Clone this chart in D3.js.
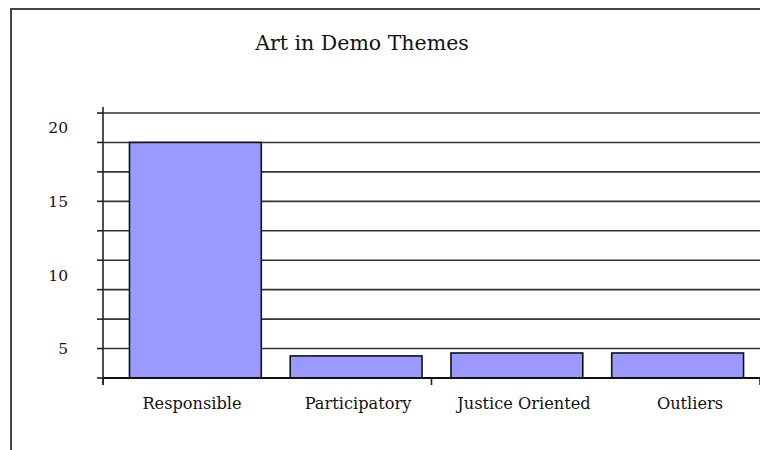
<!DOCTYPE html>
<html>
<head>
<meta charset="utf-8">
<script src="https://cdn.jsdelivr.net/npm/d3@7"></script>
<style>
  html, body { margin: 0; padding: 0; background: #fff; }
  svg { display: block; }
  text { font-family: "DejaVu Serif", "Liberation Serif", serif; fill: #111; }
</style>
</head>
<body>
<svg id="chart" width="760" height="450"></svg>
<script>
const title = "Art in Demo Themes";
const categories = ["Responsible", "Participatory", "Justice Oriented", "Outliers"];
const values = [19, 4.5, 4.7, 4.7];
const yTickLabels = [5, 10, 15, 20];
const yGridValues = [3, 5, 7, 9, 11, 13, 15, 17, 19, 21];
const yDomain = [3, 21];

const svg = d3.select("#chart");
const W = 760, H = 450;
const plot = { left: 103, top: 113, right: 760, bottom: 378 };

// outer frame
svg.append("rect")
  .attr("x", 11).attr("y", 9)
  .attr("width", W + 20).attr("height", H + 20)
  .attr("fill", "none").attr("stroke", "#444").attr("stroke-width", 2);

// title
svg.append("text")
  .attr("x", 362).attr("y", 50)
  .attr("text-anchor", "middle")
  .attr("font-size", 20.5)
  .text(title);

const y = d3.scaleLinear().domain(yDomain).range([plot.bottom, plot.top]);
const xBand = d3.scaleBand().domain(categories)
  .range([115, 758]).paddingInner(0.18).paddingOuter(0.09);
const xLabel = d3.scalePoint().domain(categories).range([192, 690]);
const xTick = d3.scaleLinear().domain([0, categories.length]).range([plot.left, plot.right]);

// gridlines
svg.append("g").selectAll("line").data(yGridValues).join("line")
  .attr("x1", plot.left).attr("x2", plot.right + 5)
  .attr("y1", d => y(d)).attr("y2", d => y(d))
  .attr("stroke", "#333").attr("stroke-width", 1.6);

// y axis line and ticks
svg.append("line")
  .attr("x1", plot.left).attr("x2", plot.left)
  .attr("y1", plot.top - 6).attr("y2", plot.bottom + 7)
  .attr("stroke", "#222").attr("stroke-width", 1.6);
svg.append("g").selectAll("line").data(yGridValues).join("line")
  .attr("x1", plot.left - 6).attr("x2", plot.left)
  .attr("y1", d => y(d)).attr("y2", d => y(d))
  .attr("stroke", "#222").attr("stroke-width", 1.6);

// y labels
svg.append("g").selectAll("text").data(yTickLabels).join("text")
  .attr("x", 68).attr("y", d => y(d))
  .attr("dy", "0.36em")
  .attr("text-anchor", "end")
  .attr("font-size", 15.5)
  .text(d => d);

// bars
svg.append("g").selectAll("rect").data(values).join("rect")
  .attr("x", (d, i) => xBand(categories[i]))
  .attr("width", xBand.bandwidth())
  .attr("y", d => y(d))
  .attr("height", d => y(yDomain[0]) - y(d))
  .attr("fill", "#9999ff")
  .attr("stroke", "#111").attr("stroke-width", 1.6);

// x axis line on top
svg.append("line")
  .attr("x1", plot.left).attr("x2", plot.right + 5)
  .attr("y1", plot.bottom).attr("y2", plot.bottom)
  .attr("stroke", "#111").attr("stroke-width", 2);
svg.append("g").selectAll("line").data([0, 2, 4]).join("line")
  .attr("x1", d => xTick(d)).attr("x2", d => xTick(d))
  .attr("y1", plot.bottom).attr("y2", plot.bottom + 7)
  .attr("stroke", "#222").attr("stroke-width", 1.6);

// category labels
svg.append("g").selectAll("text").data(categories).join("text")
  .attr("x", d => xLabel(d))
  .attr("y", 409)
  .attr("text-anchor", "middle")
  .attr("font-size", 16.2)
  .text(d => d);
</script>
</body>
</html>
